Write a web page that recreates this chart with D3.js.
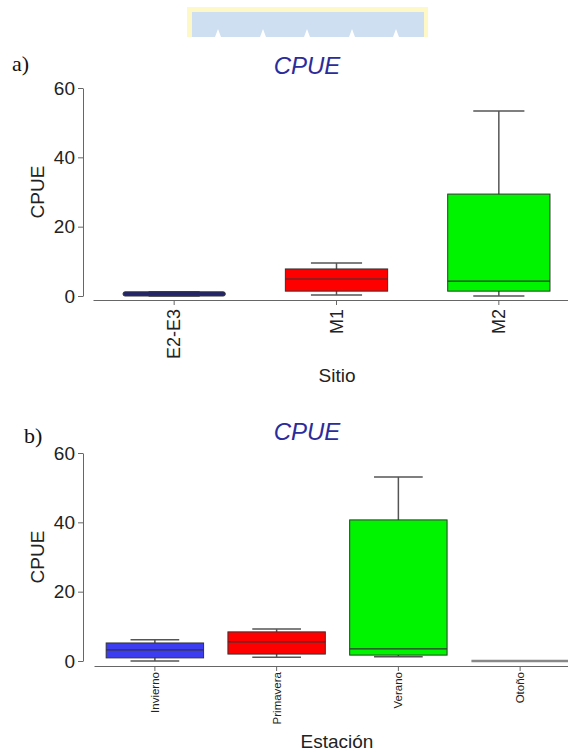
<!DOCTYPE html>
<html>
<head>
<meta charset="utf-8">
<script src="https://cdn.jsdelivr.net/npm/d3@7"></script>
<style>
  body { margin: 0; background: #fff; }
  svg { display: block; font-family: Arial, "Liberation Sans", sans-serif; }
  .axis path, .axis line { stroke: #666; }
  .axis text { fill: #222; }
</style>
</head>
<body>
<script>
//panel a data (Sitio)
var sitios = ["E2-E3", "M1", "M2"];
var sitioMin = [0, 0.3, 0];
var sitioQ1 = [0, 1.4, 1.4];
var sitioMed = [0.5, 4.9, 4.3];
var sitioQ3 = [1.2, 7.8, 29.4];
var sitioMax = [1.2, 9.5, 53.4];
var sitioColors = ["#22246e", "#ff0000", "#00f400"];

//panel b data (Estación)
var estaciones = ["Invierno", "Primavera", "Verano", "Otoño"];
var estMin = [0, 1.1, 1.2, 0];
var estQ1 = [0.9, 2.0, 1.7, 0];
var estMed = [3.2, 5.5, 3.5, 0];
var estQ3 = [5.2, 8.4, 40.7, 0];
var estMax = [6.1, 9.2, 53.1, 0];
var estColors = ["#3c3cf0", "#ff0000", "#00f400", "#888"];

var yTicks = [0, 20, 40, 60];

window.onload = function(){
    var width = 568,
        height = 751;

    var svg = d3.select("body")
        .append("svg")
        .attr("width", width)
        .attr("height", height);

    //banner at the top
    var banner = svg.append("g");
    banner.append("rect")
        .attr("x", 187).attr("y", 7)
        .attr("width", 241).attr("height", 30)
        .attr("fill", "#fdf8c6");
    banner.append("rect")
        .attr("x", 192).attr("y", 12)
        .attr("width", 232).attr("height", 25)
        .attr("fill", "#cddff0");
    [218, 263, 307, 352, 396].forEach(function(cx){
        banner.append("path")
            .attr("d", "M" + (cx - 3) + ",37L" + cx + ",29L" + (cx + 3) + ",37Z")
            .attr("fill", "#fff");
    });

    //draws one boxplot panel
    function panel(opt){
        var x = d3.scaleBand()
            .domain(opt.cats)
            .range([opt.x0, opt.x1]);

        var y = d3.scaleLinear()
            .domain([0, 60])
            .range([opt.y0, opt.y1]);

        var g = svg.append("g");

        //panel letter
        g.append("text")
            .attr("x", opt.letterX).attr("y", opt.letterY)
            .attr("font-family", "'Liberation Serif', 'Times New Roman', serif")
            .attr("font-size", 22)
            .attr("fill", "#111")
            .text(opt.letter);

        //title
        g.append("text")
            .attr("x", 307).attr("y", opt.titleY)
            .attr("text-anchor", "middle")
            .attr("font-size", 24)
            .attr("font-style", "italic")
            .attr("fill", "#2b2c9c")
            .text("CPUE");

        //y axis
        var yAxis = g.append("g")
            .attr("class", "axis")
            .attr("transform", "translate(83,0)")
            .call(d3.axisLeft(y).tickValues(yTicks).tickSize(5).tickSizeOuter(0).tickPadding(3));
        yAxis.selectAll("text").attr("font-size", 19);

        g.append("text")
            .attr("transform", "translate(44," + (opt.y1 + (opt.y0 - opt.y1) / 2) + ") rotate(-90)")
            .attr("text-anchor", "middle")
            .attr("font-size", 19)
            .attr("fill", "#222")
            .text("CPUE");

        //x axis
        var xAxis = g.append("g")
            .attr("class", "axis")
            .attr("transform", "translate(0," + opt.axisY + ")")
            .call(d3.axisBottom(x).tickSize(5).tickSizeOuter(0));
        xAxis.selectAll("text")
            .attr("font-size", opt.tickFont)
            .attr("transform", "rotate(-90)")
            .attr("text-anchor", "end")
            .attr("x", -opt.labelOff)
            .attr("y", 0)
            .attr("dy", "0.35em");

        g.append("text")
            .attr("x", 337).attr("y", opt.titleXY)
            .attr("text-anchor", "middle")
            .attr("font-size", 19)
            .attr("fill", "#222")
            .text(opt.xTitle);

        //boxes
        var idx = d3.range(opt.cats.length);
        var bw = x.bandwidth() * opt.boxRatio;
        var cw = bw * 0.5;
        function cx(i){ return x(opt.cats[i]) + x.bandwidth() / 2; }

        var boxes = g.selectAll(".box")
            .data(idx)
            .enter()
            .append("g")
            .attr("class", "box");

        var withWhisk = boxes.filter(function(i){ return opt.max[i] > opt.min[i]; });

        //whiskers
        withWhisk.append("line")
            .attr("x1", cx).attr("x2", cx)
            .attr("y1", function(i){ return y(opt.max[i]); })
            .attr("y2", function(i){ return y(opt.min[i]); })
            .attr("stroke", "#555").attr("stroke-width", 1.5);
        withWhisk.append("line")
            .attr("x1", function(i){ return cx(i) - cw / 2; })
            .attr("x2", function(i){ return cx(i) + cw / 2; })
            .attr("y1", function(i){ return y(opt.max[i]); })
            .attr("y2", function(i){ return y(opt.max[i]); })
            .attr("stroke", "#555").attr("stroke-width", 1.5);
        withWhisk.append("line")
            .attr("x1", function(i){ return cx(i) - cw / 2; })
            .attr("x2", function(i){ return cx(i) + cw / 2; })
            .attr("y1", function(i){ return y(opt.min[i]); })
            .attr("y2", function(i){ return y(opt.min[i]); })
            .attr("stroke", "#555").attr("stroke-width", 1.5);

        //box, or a flat line when every value is the same
        boxes.filter(function(i){ return opt.q3[i] > opt.q1[i]; })
            .append("rect")
            .attr("x", function(i){ return cx(i) - bw / 2; })
            .attr("y", function(i){ return y(opt.q3[i]); })
            .attr("width", bw)
            .attr("height", function(i){ return y(opt.q1[i]) - y(opt.q3[i]); })
            .attr("rx", function(i){ return opt.q3[i] - opt.q1[i] < 2 ? 2 : 0; })
            .attr("fill", function(i){ return opt.colors[i]; })
            .attr("stroke", "#333")
            .attr("stroke-width", 1);

        boxes.filter(function(i){ return opt.q3[i] === opt.q1[i]; })
            .append("line")
            .attr("x1", function(i){ return cx(i) - bw / 2; })
            .attr("x2", function(i){ return cx(i) + bw / 2; })
            .attr("y1", function(i){ return y(opt.q1[i]); })
            .attr("y2", function(i){ return y(opt.q1[i]); })
            .attr("stroke", function(i){ return opt.colors[i]; })
            .attr("stroke-width", 2.5);

        //median
        boxes.filter(function(i){ return opt.q3[i] - opt.q1[i] >= 2; })
            .append("line")
            .attr("x1", function(i){ return cx(i) - bw / 2; })
            .attr("x2", function(i){ return cx(i) + bw / 2; })
            .attr("y1", function(i){ return y(opt.med[i]); })
            .attr("y2", function(i){ return y(opt.med[i]); })
            .attr("stroke", "#333").attr("stroke-width", 1.2);
    }

    panel({
        cats: sitios, min: sitioMin, q1: sitioQ1, med: sitioMed, q3: sitioQ3, max: sitioMax,
        colors: sitioColors,
        x0: 93, x1: 580, y0: 296, y1: 88, axisY: 300,
        boxRatio: 0.63, tickFont: 18, labelOff: 9,
        letter: "a)", letterX: 12, letterY: 71, titleY: 74,
        xTitle: "Sitio", titleXY: 382
    });

    panel({
        cats: estaciones, min: estMin, q1: estQ1, med: estMed, q3: estQ3, max: estMax,
        colors: estColors,
        x0: 94, x1: 581, y0: 661, y1: 453, axisY: 666,
        boxRatio: 0.8, tickFont: 11.5, labelOff: 6,
        letter: "b)", letterX: 24, letterY: 443, titleY: 440,
        xTitle: "Estación", titleXY: 748
    });
};
</script>
</body>
</html>
